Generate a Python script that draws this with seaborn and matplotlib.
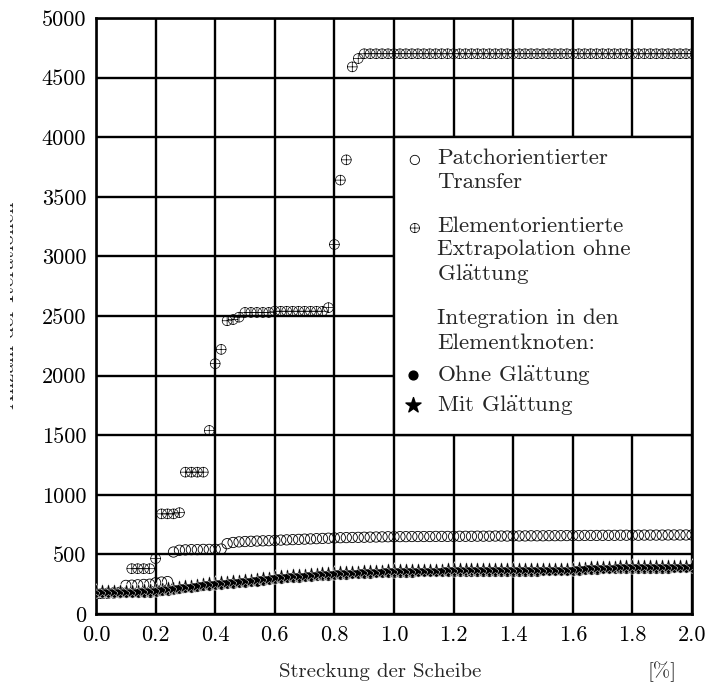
import numpy as np
import pandas as pd
import matplotlib
matplotlib.use("Agg")
import matplotlib.pyplot as plt
from matplotlib.path import Path
from matplotlib.patches import Rectangle
import seaborn as sns

# ---------------- data ----------------
x_vals = np.round(np.linspace(0.0, 2.0, 101), 2)

patch_transfer = [
    170, 172, 175, 178, 182, 240, 242, 245, 248, 250,
    262, 268, 272, 520, 535, 538, 540, 540, 542, 542,
    543, 545, 590, 600, 605, 608, 610, 612, 614, 615,
    617, 620, 622, 624, 626, 628, 630, 632, 634, 636,
    638, 640, 641, 642, 643, 644, 645, 646, 647, 648,
    648, 649, 649, 650, 650, 650, 650, 651, 651, 651,
    651, 652, 652, 652, 653, 653, 653, 654, 654, 654,
    655, 655, 655, 656, 656, 656, 657, 657, 657, 658,
    658, 658, 659, 659, 659, 660, 660, 660, 661, 661,
    661, 661, 662, 662, 662, 662, 663, 663, 663, 663, 663]

element_extrap = [
    168, 170, 172, 174, 176, 178, 380, 380, 380, 380,
    465, 840, 840, 840, 850, 1190, 1190, 1190, 1190, 1540,
    2100, 2220, 2460, 2470, 2490, 2530, 2530, 2530, 2530, 2530,
    2540, 2540, 2540, 2540, 2540, 2540, 2540, 2540, 2540, 2570,
    3100, 3640, 3810, 4590, 4660, 4700, 4700, 4700, 4700, 4700,
    4700, 4700, 4700, 4700, 4700, 4700, 4700, 4700, 4700, 4700,
    4700, 4700, 4700, 4700, 4700, 4700, 4700, 4700, 4700, 4700,
    4700, 4700, 4700, 4700, 4700, 4700, 4700, 4700, 4700, 4700,
    4700, 4700, 4700, 4700, 4700, 4700, 4700, 4700, 4700, 4700,
    4700, 4700, 4700, 4700, 4700, 4700, 4700, 4700, 4700, 4700, 4700]

ohne_glaettung = [
    172, 172, 172, 173, 173, 174, 175, 176, 178, 180,
    185, 190, 196, 202, 208, 214, 220, 226, 232, 236,
    240, 245, 250, 255, 258, 262, 266, 270, 275, 282,
    290, 295, 298, 302, 305, 308, 312, 315, 318, 322,
    325, 328, 330, 332, 334, 336, 338, 340, 342, 344,
    345, 346, 347, 348, 349, 350, 350, 351, 351, 352,
    352, 352, 353, 353, 353, 354, 354, 354, 355, 355,
    355, 355, 356, 356, 356, 357, 357, 357, 358, 358,
    358, 362, 366, 370, 372, 374, 375, 376, 377, 378,
    378, 379, 379, 380, 380, 381, 381, 382, 382, 383, 383]

mit_glaettung = [
    190, 190, 190, 191, 192, 193, 194, 196, 198, 200,
    204, 208, 214, 220, 226, 232, 238, 244, 250, 256,
    262, 267, 272, 276, 280, 284, 288, 292, 298, 305,
    312, 316, 320, 324, 327, 330, 334, 337, 340, 344,
    347, 350, 352, 354, 356, 358, 360, 362, 364, 366,
    367, 368, 369, 370, 371, 372, 372, 373, 373, 374,
    374, 374, 375, 375, 375, 376, 376, 376, 377, 377,
    377, 377, 378, 378, 378, 379, 379, 379, 380, 380,
    380, 384, 388, 392, 394, 396, 397, 398, 399, 400,
    400, 401, 401, 402, 402, 403, 403, 404, 404, 405, 405]

x_ticks = [0.0, 0.2, 0.4, 0.6, 0.8, 1.0, 1.2, 1.4, 1.6, 1.8, 2.0]
x_ticklabels = ["0.0", "0.2", "0.4", "0.6", "0.8", "1.0", "1.2", "1.4", "1.6", "1.8", "2.0"]
y_ticks = [0, 500, 1000, 1500, 2000, 2500, 3000, 3500, 4000, 4500, 5000]
y_ticklabels = ["0", "500", "1000", "1500", "2000", "2500", "3000", "3500", "4000", "4500", "5000"]

AE = r"Gl$\ddot{\mathrm{a}}$ttung"   # "Glättung" in Computer Modern
legend_labels = ["Patchorientierter\nTransfer",
                 "Elementorientierte\nExtrapolation ohne\n" + AE,
                 "Integration in den\nElementknoten:",
                 "Ohne " + AE,
                 "Mit " + AE]
x_label = "Streckung der Scheibe"
x_unit = "[%]"
y_label = "Anzahl der Iterationen"

df = pd.DataFrame({"x": x_vals, "patch": patch_transfer, "elem": element_extrap,
                   "ohne": ohne_glaettung, "mit": mit_glaettung})

# ---------------- style ----------------
sns.set_theme(style="white")
plt.rcParams["font.family"] = ["cmr10", "DejaVu Serif"]
plt.rcParams["axes.formatter.use_mathtext"] = True
plt.rcParams["mathtext.fontset"] = "cm"

# circle with plus marker
oplus = Path.make_compound_path(
    Path.unit_circle(),
    Path([(-1, 0), (1, 0)], [Path.MOVETO, Path.LINETO]),
    Path([(0, -1), (0, 1)], [Path.MOVETO, Path.LINETO]))

fig = plt.figure(figsize=(7.07, 6.89), dpi=100)
ax = fig.add_axes([96/707, 1-614/689, (692-96)/707, (614-18)/689])

sns.scatterplot(data=df, x="x", y="patch", ax=ax, marker="o", s=55,
                facecolor="none", edgecolor="black", linewidth=0.6, zorder=3, legend=False)
sns.scatterplot(data=df, x="x", y="elem", ax=ax, marker=oplus, s=50,
                facecolor="none", edgecolor="black", linewidth=0.5, zorder=3, legend=False)
sns.scatterplot(data=df, x="x", y="ohne", ax=ax, marker="o", s=45,
                color="black", edgecolor="white", linewidth=0.4, zorder=4, legend=False)
sns.scatterplot(data=df, x="x", y="mit", ax=ax, marker="*", s=130,
                color="black", edgecolor="white", linewidth=0.3, zorder=5, legend=False)

ax.set_xlim(0, 2.0)
ax.set_ylim(0, 5000)
ax.set_xticks(x_ticks)
ax.set_xticklabels(x_ticklabels)
ax.set_yticks(y_ticks)
ax.set_yticklabels(y_ticklabels)
ax.tick_params(axis="both", length=0, labelsize=16, colors="black")
ax.tick_params(axis="x", pad=8)
ax.tick_params(axis="y", pad=7)
ax.grid(True, color="black", linewidth=1.7)
ax.set_axisbelow(True)
for sp in ax.spines.values():
    sp.set_color("black")
    sp.set_linewidth(1.9)
ax.set_xlabel("")
ax.set_ylabel("")

# legend box
ax.add_patch(Rectangle((1.0, 1500), 1.0, 2500, facecolor="white", edgecolor="black",
                       linewidth=1.7, zorder=6))
tx = 1.144
mx = 1.07
fs = 16.6
ax.scatter([mx], [3809], marker="o", s=45, facecolor="none", edgecolor="black", linewidth=0.6, zorder=7)
ax.text(tx, 3905, legend_labels[0], fontsize=fs, va="top", ha="left", zorder=7, linespacing=1.3)
ax.scatter([mx], [3238], marker=oplus, s=45, facecolor="none", edgecolor="black", linewidth=0.5, zorder=7)
ax.text(tx, 3335, legend_labels[1], fontsize=fs, va="top", ha="left", zorder=7, linespacing=1.2)
ax.text(tx, 2560, legend_labels[2], fontsize=fs, va="top", ha="left", zorder=7, linespacing=1.35)
ax.scatter([1.064], [2005], marker="o", s=40, color="black", zorder=7)
ax.text(tx, 2005, legend_labels[3], fontsize=fs, va="center", ha="left", zorder=7)
ax.scatter([1.064], [1753], marker="*", s=130, color="black", zorder=7)
ax.text(tx, 1753, legend_labels[4], fontsize=fs, va="center", ha="left", zorder=7)

fig.text(380/707, 1-672/689, x_label, fontsize=15, ha="center", va="center")
fig.text(662/707, 1-672/689, x_unit, fontsize=15, ha="center", va="center")
fig.text(18/707, 1-305/689, y_label, fontsize=15, ha="right", va="center", rotation=90, zorder=1)
# the reference crops most of the y label at the left edge
fig.patches.append(Rectangle((0, 0), 10/707, 1, transform=fig.transFigure,
                             facecolor="white", edgecolor="none", zorder=10))

fig.savefig("out.png", dpi=100, facecolor="white")
